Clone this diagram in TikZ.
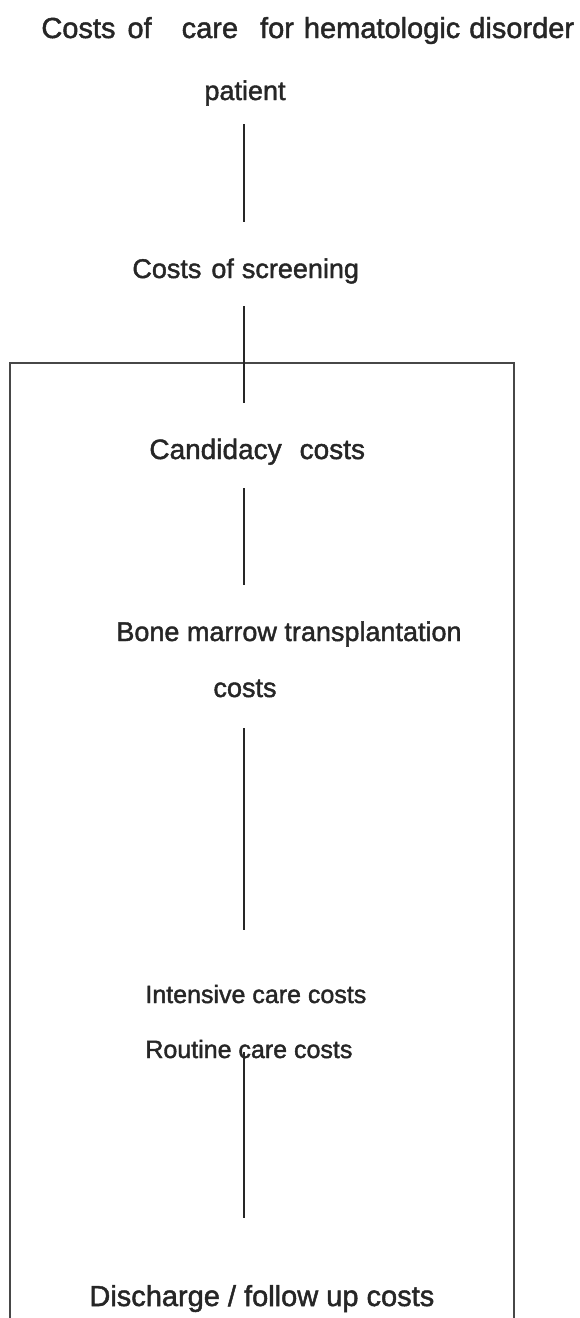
\documentclass[tikz,border=0pt]{standalone}
\usepackage{fontspec}
\setmainfont{Liberation Sans}
\newfontfamily\scanfont[FakeBold=1.6]{Liberation Sans}
\usepackage{tikz}
\usetikzlibrary{positioning}

\definecolor{inkgray}{HTML}{262626}

\tikzset{
  costtext/.style={font=\scanfont\fontsize{13.5}{16}\selectfont, text=inkgray, inner sep=0pt, anchor=base west},
  stem/.style={draw=inkgray, line width=1.1pt},
  frame/.style={draw=inkgray!85, line width=0.8pt}
}

\begin{document}
\begin{tikzpicture}[x=0.5pt, y=-0.5pt]
\useasboundingbox (0,0) rectangle (579,1318);
\clip (0,0) rectangle (579,1318);

% Top of the tree
\node[costtext, font=\scanfont\fontsize{14.5}{17}\selectfont] (care) at (41,38)
  {Costs\hspace{6pt}of\hspace{15pt}care\hspace{11pt}for\hspace{5pt}hematologic\hspace{4.5pt}disorder};
\node[costtext, anchor=base] (patient) at (245,100) {patient};
\node[costtext] (screening) at (132,278) {Costs\hspace{5pt}of\hspace{4pt}screening};

% Frame round the transplant stages (open at the bottom)
\draw[frame] (10,1330) -- (10,363) -- (514,363) -- (514,1330);

% Stages
\node[costtext, font=\scanfont\fontsize{14}{16}\selectfont] (candidacy) at (149,459) {Candidacy\hspace{9pt}costs};
\node[costtext] (bmt) at (116,641) {Bone marrow transplantation};
\node[costtext, anchor=base] (bmtcosts) at (245,697) {costs};
\node[costtext, font=\scanfont\fontsize{12.5}{15}\selectfont] (intensive) at (145,1003) {Intensive care costs};
\node[costtext, font=\scanfont\fontsize{12.5}{15}\selectfont] (routine) at (145,1058) {Routine care costs};
\node[costtext, font=\scanfont\fontsize{14.5}{17}\selectfont] (discharge) at (89,1306) {Discharge / follow up costs};

% Connector ends
\coordinate (s1top) at (244,124);  \coordinate (s1bot) at (244,222);
\coordinate (s2top) at (244,306);  \coordinate (s2bot) at (244,403);
\coordinate (s3top) at (244,488);  \coordinate (s3bot) at (244,585);
\coordinate (s4top) at (244,728);  \coordinate (s4bot) at (244,930);
\coordinate (s5top) at (244,1052); \coordinate (s5bot) at (244,1218);

% Connectors
\draw[stem] (s1top) -- (s1bot);
\draw[stem] (s2top) -- (s2bot);
\draw[stem] (s3top) -- (s3bot);
\draw[stem] (s4top) -- (s4bot);
\draw[stem] (s5top) -- (s5bot);

\end{tikzpicture}
\end{document}
